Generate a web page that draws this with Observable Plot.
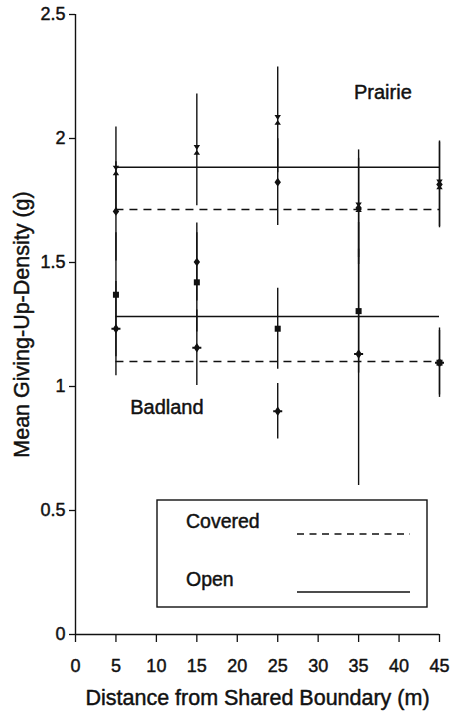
<!DOCTYPE html>
<html><head><meta charset="utf-8">
<script src="https://cdn.jsdelivr.net/npm/d3@7"></script>
<script src="https://cdn.jsdelivr.net/npm/@observablehq/plot@0.6"></script>
<style>
html,body{margin:0;padding:0;background:#fff;}
#wrap{position:relative;width:456px;height:717px;}
#wrap svg.overlay{position:absolute;left:0;top:0;pointer-events:none;}
#wrap text{paint-order:stroke;}
</style></head><body><div id="wrap"></div>
<script>
// ---- data ----
const distance = [5, 15, 25, 35, 45];
const xTicks = [0, 5, 10, 15, 20, 25, 30, 35, 40, 45];
const yTicks = [0, 0.5, 1, 1.5, 2, 2.5];

const prairieOpen       = [1.871, 1.954, 2.075, 1.723, 1.815];
const prairieOpenSE     = [0.175, 0.225, 0.213, 0.231, 0.170];
const prairieCovered    = [1.706, 1.502, 1.824, 1.720, 1.815];
const prairieCoveredSE  = [0.200, 0.157, 0.175, 0.200, 0.175];
const badlandOpen       = [1.370, 1.420, 1.233, 1.304, 1.096];
const badlandOpenSE     = [0.250, 0.200, 0.163, 0.250, 0.140];
const badlandCovered    = [1.233, 1.156, 0.900, 1.131, 1.096];
const badlandCoveredSE  = [0.190, 0.152, 0.112, 0.530, 0.130];

const meanNames  = ["Prairie Open", "Prairie Covered", "Badland Open", "Badland Covered"];
const meanCover  = ["Open", "Covered", "Open", "Covered"];
const meanValues = [1.884, 1.714, 1.282, 1.101];

const regionNames = ["Prairie", "Badland"];
const regionX = [38, 11.3];
const regionY = [2.187, 0.915];

const legendNames = ["Covered", "Open"];

const xLabel = "Distance from Shared Boundary (m)";
const yLabel = "Mean Giving-Up-Density (g)";

// ---- custom marker shapes ----
const hourglass = {draw(c, size){ const r = Math.sqrt(size/Math.PI); const a = 0.75*r, b = 1.12*r;
  c.moveTo(-a,-b); c.lineTo(a,-b); c.lineTo(0,0); c.closePath();
  c.moveTo(-a,b); c.lineTo(a,b); c.lineTo(0,0); c.closePath(); }};
const diamond = {draw(c, size){ const r = Math.sqrt(size/Math.PI); const a = 0.75*r, b = 1.0*r;
  c.moveTo(0,-b); c.lineTo(a,0); c.lineTo(0,b); c.lineTo(-a,0); c.closePath(); }};
const square = {draw(c, size){ const r = Math.sqrt(size/Math.PI); const h = 0.7*r;
  c.rect(-h,-h,2*h,2*h); }};
const plusDiamond = {draw(c, size){ const r = Math.sqrt(size/Math.PI); const a = 0.75*r, b = 1.1*r, w = 1.05*r, t = 0.22*r;
  c.moveTo(0,-b); c.lineTo(a,0); c.lineTo(0,b); c.lineTo(-a,0); c.closePath();
  c.rect(-w,-t,2*w,2*t); }};

const series = [
  {name: "Prairie Open",    values: prairieOpen,    se: prairieOpenSE,    symbol: hourglass},
  {name: "Prairie Covered", values: prairieCovered, se: prairieCoveredSE, symbol: diamond},
  {name: "Badland Open",    values: badlandOpen,    se: badlandOpenSE,    symbol: square},
  {name: "Badland Covered", values: badlandCovered, se: badlandCoveredSE, symbol: plusDiamond}
];
const rows = series.flatMap(s => distance.map((d, i) => ({x: d, y: s.values[i], se: s.se[i], name: s.name})));
const means = meanNames.map((n, i) => ({name: n, cover: meanCover[i], mean: meanValues[i]}));
const regions = regionNames.map((n, i) => ({name: n, x: regionX[i], y: regionY[i]}));

const FONT = "'Liberation Sans', Arial, Helvetica, sans-serif";
const INK = "#111";
const TXT = {fill: INK, stroke: INK, strokeWidth: 0.45};

const chart = Plot.plot({
  width: 456, height: 717,
  marginLeft: 75, marginRight: 17, marginTop: 14, marginBottom: 83,
  style: {fontFamily: FONT, fontSize: "18px", color: INK, background: "#fff", overflow: "visible"},
  x: {domain: [0, 45]},
  y: {domain: [0, 2.5]},
  marks: [
    Plot.axisX({ticks: xTicks, tickSize: 8, tickPadding: 17, tickFormat: d => String(d), label: null, fontSize: 18, strokeWidth: 1.3, textStroke: INK, textStrokeWidth: 0.45}),
    Plot.axisY({ticks: yTicks, tickSize: 6, tickPadding: 4, tickFormat: d => String(d), label: null, fontSize: 18, strokeWidth: 1.3, textStroke: INK, textStrokeWidth: 0.45}),
    Plot.ruleX([0], {y1: 0, y2: 2.5, stroke: INK, strokeWidth: 1.4}),
    Plot.ruleY([0], {x1: 0, x2: 45, stroke: INK, strokeWidth: 1.4}),
    Plot.ruleY(means.filter(d => d.cover === "Open"), {y: "mean", x1: distance[0], x2: distance[distance.length-1], stroke: INK, strokeWidth: 1.4}),
    Plot.ruleY(means.filter(d => d.cover === "Covered"), {y: "mean", x1: distance[0], x2: distance[distance.length-1], stroke: INK, strokeWidth: 1.4, strokeDasharray: "8,6"}),
    Plot.ruleX(rows, {x: "x", y1: d => d.y - d.se, y2: d => d.y + d.se, stroke: INK, strokeWidth: 1.4}),
    ...series.map(s => Plot.dot(rows.filter(d => d.name === s.name), {x: "x", y: "y", r: 4.3, symbol: s.symbol, fill: INK, stroke: "none"})),
    Plot.text(regions, {x: "x", y: "y", text: "name", fontSize: 20, ...TXT}),
    Plot.text([xLabel], {frameAnchor: "bottom", textAnchor: "middle", lineAnchor: "middle", dy: 64, fontSize: 21.5, ...TXT}),
    Plot.text([yLabel], {frameAnchor: "left", textAnchor: "middle", lineAnchor: "middle", dx: -53, rotate: -90, fontSize: 21.5, ...TXT})
  ]
});
const wrap = document.getElementById("wrap");
wrap.appendChild(chart);

// ---- legend box drawn over the plot ----
const lg = d3.select(wrap).append("svg").attr("class", "overlay").attr("width", 456).attr("height", 717)
  .style("font-family", FONT);
lg.append("rect").attr("x", 157).attr("y", 500).attr("width", 270).attr("height", 107)
  .attr("fill", "#fff").attr("stroke", INK).attr("stroke-width", 1.4);
lg.append("text").attr("x", 186).attr("y", 521).attr("dy", "0.35em").attr("font-size", 19.5).attr("fill", INK).attr("stroke", INK).attr("stroke-width", 0.45).text(legendNames[0]);
lg.append("line").attr("x1", 297).attr("x2", 410).attr("y1", 534).attr("y2", 534).attr("stroke", INK).attr("stroke-width", 1.3).attr("stroke-dasharray", "7,5.5");
lg.append("text").attr("x", 186).attr("y", 579).attr("dy", "0.35em").attr("font-size", 19.5).attr("fill", INK).attr("stroke", INK).attr("stroke-width", 0.45).text(legendNames[1]);
lg.append("line").attr("x1", 297).attr("x2", 410).attr("y1", 592).attr("y2", 592).attr("stroke", INK).attr("stroke-width", 1.3);
</script></body></html>
